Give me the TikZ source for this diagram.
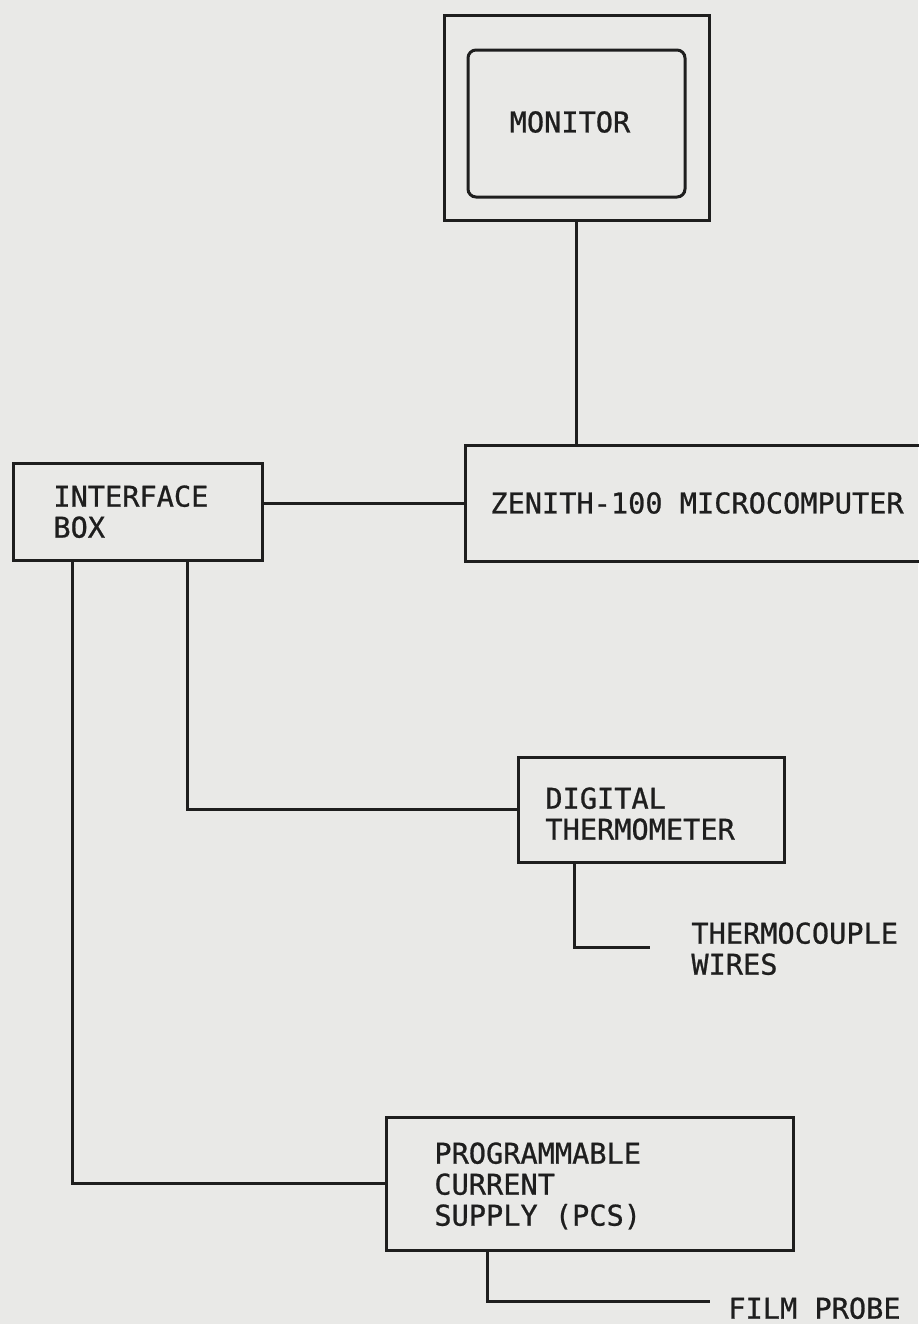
\documentclass[tikz,border=0pt]{standalone}
\usepackage{fontspec}
\setmainfont[FakeBold=0.8]{DejaVu Sans Mono}
\definecolor{paper}{RGB}{233,233,231}
\definecolor{ink}{RGB}{30,30,30}

\begin{document}
\begin{tikzpicture}[x=0.5pt, y=-0.5pt,
  box/.style={draw=ink, line width=1.5pt, inner sep=0pt},
  lbl/.style={inner sep=0pt, align=left, text=ink, font=\fontsize{14.3}{15.5}\selectfont},
  wire/.style={draw=ink, line width=1.5pt}]
  % paper
  \fill[paper] (0,0) rectangle (918,1324);
  \useasboundingbox (0,0) rectangle (918,1324);

  % monitor with its screen
  \node[box, minimum width=132.5pt, minimum height=102.5pt] (monitor) at (576.5,117.5) {};
  \node[box, rounded corners=4pt, minimum width=108.5pt, minimum height=73.5pt] (screen) at (576.5,123.5) {};
  \node[lbl] (montxt) at (570,122) {MONITOR};

  % computer, runs off the right edge
  \node[box, minimum width=235pt, minimum height=58pt] (zenith) at (700,503) {};
  \node[lbl, anchor=west] (zentxt) at (490,503) {ZENITH-100 MICROCOMPUTER};

  % interface box
  \node[box, minimum width=124.5pt, minimum height=48.5pt] (iface) at (137.5,511.5) {};
  \node[lbl, anchor=north west] (ifacetxt) at (53,485) {INTERFACE\\BOX};

  % thermometer
  \node[box, minimum width=133pt, minimum height=52.5pt] (dtherm) at (651,809.5) {};
  \node[lbl, anchor=north west] (dthermtxt) at (545,787) {DIGITAL\\THERMOMETER};

  % current supply
  \node[box, minimum width=203.5pt, minimum height=66.5pt] (pcs) at (589.5,1183.5) {};
  \node[lbl, anchor=north west] (pcstxt) at (434,1142) {PROGRAMMABLE\\CURRENT\\SUPPLY (PCS)};

  % free ends
  \coordinate (tcend) at (650,947);
  \coordinate (fpend) at (710,1301);
  \node[lbl, anchor=north west] (tctxt) at (691,922) {THERMOCOUPLE\\WIRES};
  \node[lbl, anchor=north west] (fptxt) at (728,1297) {FILM PROBE};

  % wiring
  \draw[wire] (monitor.south) -- (monitor.south |- zenith.north);
  \draw[wire] (zenith.west -| iface.east) -- (zenith.west);
  \draw[wire] ([xshift=25pt]iface.south) |- (dtherm.west);
  \draw[wire] ([xshift=-32.75pt]iface.south) |- (pcs.west);
  \draw[wire] ([xshift=-38.5pt]dtherm.south) |- (tcend);
  \draw[wire] ([xshift=-51.25pt]pcs.south) |- (fpend);
\end{tikzpicture}
\end{document}
